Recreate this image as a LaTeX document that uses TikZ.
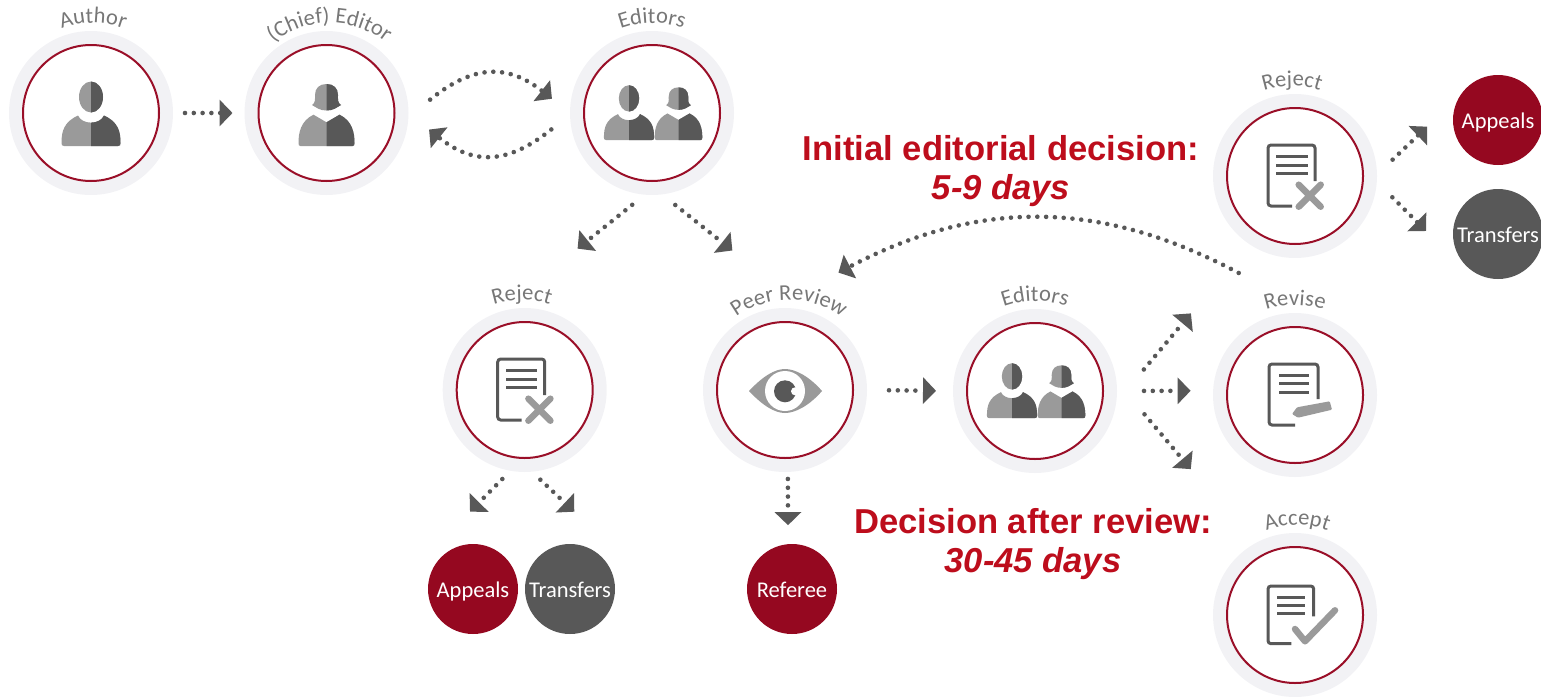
\documentclass[tikz,border=0pt]{standalone}
\usepackage{fontspec}
\setmainfont{Liberation Sans}
\newfontfamily\labelfont{Carlito}
\usetikzlibrary{arrows.meta,decorations.text}
\definecolor{ringgray}{HTML}{F2F2F5}
\definecolor{ringred}{HTML}{9A0F28}
\definecolor{appealred}{HTML}{950820}
\definecolor{icondark}{HTML}{585858}
\definecolor{iconlight}{HTML}{9A9A9A}
\definecolor{labelgray}{HTML}{777777}
\definecolor{headred}{HTML}{BD0D1C}
\newcommand{\twotone}[1]{%
  \fill[iconlight] #1;
  \begin{scope}
    \clip (0,-40) rectangle (40,40);
    \fill[icondark] #1;
  \end{scope}}
\newcommand{\doclines}[3]{%
  \foreach \y in {#3} {\draw[icondark,line width=3pt] (#1,\y) -- (#2,\y);}}
\newcommand{\curvedlabel}[3][90]{%
  \path[decorate,decoration={text along path,text align=center,text color=labelgray,
    text={|\labelfont\fontsize{22.5}{22.5}\selectfont|#3}}]
    (#2) ++(215:#1) arc[start angle=215,end angle=325,radius=#1];}
\tikzset{
  personicon/.pic={
    \twotone{(0,-16) ellipse [x radius=12,y radius=15.5]}
    \twotone{(-29.5,30) .. controls (-29.5,18) and (-27,9) .. (-13,2.5)
      .. controls (-9,12) and (9,12) .. (13,2.5)
      .. controls (27,9) and (29.5,18) .. (29.5,30)
      .. controls (29.5,32) and (29,33) .. (27,33) -- (-27,33)
      .. controls (-29,33) and (-29.5,32) .. (-29.5,30) -- cycle}
  },
  womanicon/.pic={
    \twotone{(0,-29) .. controls (7,-29) and (11.5,-25) .. (11.5,-18)
      .. controls (11.5,-13) and (11,-10.5) .. (14.5,-8)
      .. controls (10,-5.5) and (7,-2.5) .. (0,-2.5)
      .. controls (-7,-2.5) and (-10,-5.5) .. (-14.5,-8)
      .. controls (-11,-10.5) and (-11.5,-13) .. (-11.5,-18)
      .. controls (-11.5,-25) and (-7,-29) .. (0,-29) -- cycle}
    \twotone{(-28,30) .. controls (-28,20) and (-26,8) .. (-13,1.7)
      -- (0,9.3) -- (13,1.7)
      .. controls (26,8) and (28,20) .. (28,30)
      .. controls (28,32) and (27.5,33) .. (26,33) -- (-26,33)
      .. controls (-27.5,33) and (-28,32) .. (-28,30) -- cycle}
  },
  groupicon/.pic={
    \pic[scale=.85] at (-23,-1) {personicon};
    \pic[scale=.85] at (26.5,-1) {womanicon};
  },
  rejecticon/.pic={
    \draw[icondark,line width=3pt,rounded corners=3pt] (-3,30) -- (-27,30) -- (-27,-31) -- (20,-31) -- (20,5);
    \doclines{-18.7}{12.7}{-20,-11,-2.3}
    \draw[iconlight,line width=6.5pt,line cap=round] (3.7,8.7) -- (25.7,30.7) (25.7,8.7) -- (3.7,30.7);
  },
  reviseicon/.pic={
    \draw[icondark,line width=3pt,rounded corners=3pt] (0,30) -- (-26,30) -- (-26,-31) -- (23,-31) -- (23,4);
    \doclines{-16}{14}{-20,-11.6,-3}
    \fill[iconlight,rounded corners=1pt] (-3,19) -- (2,12.3) -- (34.7,6.3) -- (37,14.7) -- (3,22.7) -- cycle;
  },
  accepticon/.pic={
    \draw[icondark,line width=3pt,rounded corners=3pt] (-3.7,28.7) -- (-27,28.7) -- (-27,-29) -- (18.7,-29) -- (18.7,1.3);
    \doclines{-18}{10}{-18,-10,-2}
    \draw[iconlight,line width=6.5pt,line cap=round,line join=round] (0,14) -- (10,26.3) -- (40,-4.7);
  },
  eyeicon/.pic={
    \fill[iconlight] (-36,1) .. controls (-22,-14) and (-10,-21) .. (0,-21)
      .. controls (10,-21) and (24,-14) .. (37,1)
      .. controls (24,16) and (10,23) .. (0,23)
      .. controls (-10,23) and (-22,16) .. (-36,1) -- cycle;
    \fill[white] (0,1) circle (20);
    \fill[icondark] (0,1.3) circle (11);
    \fill[white] (10,1.3) circle (4);
  }
}
\begin{document}
\begin{tikzpicture}
[x=1pt,y=-1pt,
 stagedecorate/.style={shape=circle,fill=ringgray,minimum size=164pt,inner sep=0pt,outer sep=0pt},%
 ringdecorate/.style={shape=circle,draw=ringred,fill=white,line width=2pt,minimum size=136pt,inner sep=0pt},%
 outcomedecorate/.style={shape=circle,minimum size=90pt,inner sep=0pt,outer sep=0pt,text=white,
   text height=19pt,text depth=2pt,font=\labelfont\fontsize{22.5}{22.5}\selectfont},%
 appealdecorate/.style={outcomedecorate,fill=appealred},%
 transferdecorate/.style={outcomedecorate,fill=icondark},%
 linedecorate/.style={draw=icondark,line width=4.6pt,line cap=round,dash pattern=on 0pt off 8.8pt,
   -{Triangle[length=13pt,width=26pt]}},%
 headingdecorate/.style={align=center,text=headred,font=\bfseries\fontsize{34.6}{39}\selectfont}]
\useasboundingbox (0,0) rectangle (1541,696);
%% nodes or vertices
\foreach \nodename/\x/\y/\iconname in {Author/91/113/personicon, Chief/326.5/113/womanicon,
  Editors/652/113/groupicon, RejectLow/524.7/390/rejecticon, Peer/785/390/eyeicon,
  EditorsTwo/1035/391/groupicon, Revise/1295/395/reviseicon, Accept/1295/615/accepticon,
  RejectTop/1295/176/rejecticon}
{
  \node (\nodename) at (\x,\y) [stagedecorate] {};
  \node (\nodename Ring) at (\x,\y) [ringdecorate] {};
  \pic at (\x,\y) {\iconname};
}
\node (AppealsLow) at (473,589) [appealdecorate] {Appeals};
\node (TransfersLow) at (570,589) [transferdecorate] {Transfers};
\node (Referee) at (792,589) [appealdecorate] {Referee};
\node (AppealsTop) at (1498,120) [appealdecorate] {Appeals};
\node (TransfersTop) at (1498,234) [transferdecorate] {Transfers};
\node (HeadInitial) at (1001,171) [headingdecorate] {Initial editorial decision:\\\itshape 5-9 days};
\node (HeadReview) at (1033,544) [headingdecorate] {Decision after review:\\\itshape 30-45 days};
\coordinate (AppealsLowIn) at (470,511.7);
\coordinate (TransfersLowIn) at (574.3,511.7);
\coordinate (TransfersTopIn) at (1426,231);
%% labels
\curvedlabel{[xshift=2pt]Author}{Author}
\curvedlabel{[xshift=3pt]Chief}{(Chief) Editor}
\curvedlabel{Editors}{Editors}
\curvedlabel{[xshift=-3pt]RejectLow}{Reject}
\curvedlabel{[xshift=4pt]Peer}{Peer Review}
\curvedlabel{EditorsTwo}{Editors}
\curvedlabel{Revise}{Revise}
\curvedlabel{[xshift=2pt]Accept}{Accept}
\curvedlabel{[xshift=-3pt]RejectTop}{Reject}
%% edges or lines
\foreach \startnode/\startangle/\endnode/\endangle/\startgap/\endgap in {
  Author/0/Chief/180/12/12, Editors/265/RejectLow/109/16.2/102,
  Editors/277/Peer/73.4/17/98, Peer/272/Referee/95.5/7/19,
  Peer/0/EditorsTwo/180/22/17, EditorsTwo/352.3/RejectTop/236/43/90.6,
  EditorsTwo/0/Revise/177.5/27/22.5, EditorsTwo/7.8/Accept/120.3/43.6/98,
  RejectTop/1.3/AppealsTop/145.4/21.6/47}
{
  \draw[linedecorate,shorten <=\startgap pt,shorten >=\endgap pt] (\startnode.\startangle) -- (\endnode.\endangle);
}
\foreach \startnode/\startangle/\endname/\startgap in {
  RejectLow/260.3/AppealsLowIn/11.6, RejectLow/275.4/TransfersLowIn/11.7,
  RejectTop/356/TransfersTopIn/22}
{
  \draw[linedecorate,shorten <=\startgap pt] (\startnode.\startangle) -- (\endname);
}
\draw[linedecorate,shorten <=28pt,shorten >=23pt] (Chief.357.5) .. controls (474,64) and (508,64) .. (Editors.180);
\draw[linedecorate,shorten <=24pt,shorten >=26.4pt] (Editors.181.4) .. controls (507,165) and (473,165) .. (Chief.0);
\draw[linedecorate,shorten <=95.6pt,shorten >=79.7pt] (Revise.70) .. controls (1100,199) and (978,199) .. (Peer.102);
\end{tikzpicture}
\end{document}
